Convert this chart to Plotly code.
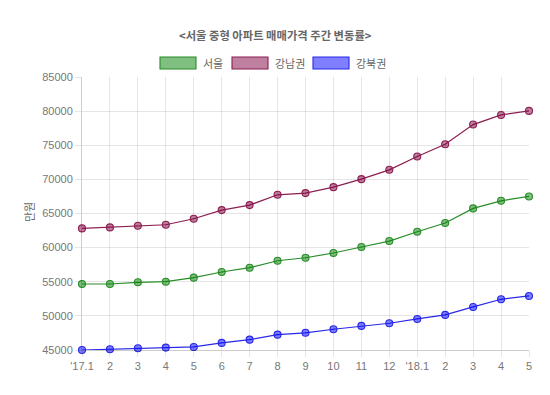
import plotly.graph_objects as go

categories = ["'17.1", "2", "3", "4", "5", "6", "7", "8", "9", "10", "11", "12",
              "'18.1", "2", "3", "4", "5"]
seoul = [54670, 54670, 54920, 55010, 55600, 56430, 57060, 58080, 58520, 59210,
         60090, 60960, 62320, 63600, 65750, 66860, 67500]
gangnam = [62820, 62960, 63200, 63350, 64230, 65500, 66230, 67740, 67990, 68860,
           70030, 71400, 73350, 75150, 78030, 79440, 80030]
gangbuk = [45000, 45100, 45260, 45350, 45450, 46040, 46520, 47250, 47520, 48040,
           48530, 48920, 49550, 50140, 51310, 52430, 52920]
series_names = ["서울", "강남권", "강북권"]
y_ticks = [45000, 50000, 55000, 60000, 65000, 70000, 75000, 80000, 85000]

line_colors = ["rgb(40,140,40)", "rgb(140,30,80)", "rgb(40,40,230)"]
fill_colors = ["rgba(0,128,0,0.5)", "rgba(128,0,64,0.5)", "rgba(0,0,255,0.5)"]

# page body has an 8px margin; work in viewport pixels and offset
OFF = 8
W, H = 550 - OFF, 395 - OFF
L, R, T, B = 82 - OFF, 21, 77 - OFF, 45
pw, ph = W - L - R, H - T - B

def px(xv):
    return (xv - OFF - L) / pw

def py(yv):
    return (H - B - (yv - OFF)) / ph

FONT = "Liberation Sans, Arial, Noto Sans CJK KR, sans-serif"
KFONT = "Noto Sans CJK KR, Liberation Sans, sans-serif"

x = list(range(len(categories)))
fig = go.Figure()
for name, vals, lc, fc in zip(series_names, [seoul, gangnam, gangbuk], line_colors, fill_colors):
    fig.add_trace(go.Scatter(
        x=x, y=vals, name=name, mode="lines+markers",
        line=dict(color=lc, width=1.2),
        marker=dict(size=7, color=fc, line=dict(color=lc, width=1.1)),
        cliponaxis=False, showlegend=False,
    ))

# manual legend (Chart.js-like boxes)
legend_pos = [160, 232, 313]
shapes = []
annotations = []
for name, lc, fc, lx in zip(series_names, line_colors, fill_colors, legend_pos):
    shapes.append(dict(type="rect", xref="paper", yref="paper",
                       x0=px(lx), x1=px(lx + 36), y0=py(69), y1=py(57),
                       fillcolor=fc, line=dict(color=lc, width=1.1)))
    annotations.append(dict(xref="paper", yref="paper", x=px(lx + 41), y=py(63),
                            text=name, showarrow=False, xanchor="left", yanchor="middle",
                            font=dict(family=KFONT, size=11, color="#666")))

annotations.append(dict(xref="paper", yref="paper", x=px(275), y=py(35),
                        text="<b>&lt;서울 중형 아파트 매매가격 주간 변동률&gt;</b>",
                        showarrow=False, xanchor="center", yanchor="middle",
                        font=dict(family=KFONT, size=11.3, color="#666")))
annotations.append(dict(xref="paper", yref="paper", x=px(29), y=py(212),
                        text="만원", textangle=-90, showarrow=False,
                        xanchor="center", yanchor="middle",
                        font=dict(family=KFONT, size=11, color="#666")))

fig.update_layout(
    width=W, height=H, autosize=False,
    margin=dict(l=L, r=R, t=T, b=B, pad=0),
    paper_bgcolor="white", plot_bgcolor="white",
    shapes=shapes, annotations=annotations,
    font=dict(family=FONT, size=11, color="#666"),
)
fig.update_xaxes(
    range=[0, len(categories) - 1], tickmode="array", tickvals=x, ticktext=categories,
    showgrid=True, gridcolor="rgba(0,0,0,0.1)", gridwidth=1,
    ticks="outside", ticklen=6, tickcolor="rgba(0,0,0,0.1)",
    showline=True, linecolor="rgba(0,0,0,0.2)", zeroline=False,
    tickfont=dict(family=FONT, size=11, color="#777"),
)
fig.update_yaxes(
    range=[45000, 85000], tickmode="array", tickvals=y_ticks,
    ticktext=[str(v) for v in y_ticks],
    showgrid=True, gridcolor="rgba(0,0,0,0.1)", gridwidth=1,
    ticks="outside", ticklen=6, tickcolor="rgba(0,0,0,0.1)",
    showline=True, linecolor="rgba(0,0,0,0.2)", zeroline=False,
    tickfont=dict(family=FONT, size=11, color="#777"),
)
fig.write_html("out.html")
